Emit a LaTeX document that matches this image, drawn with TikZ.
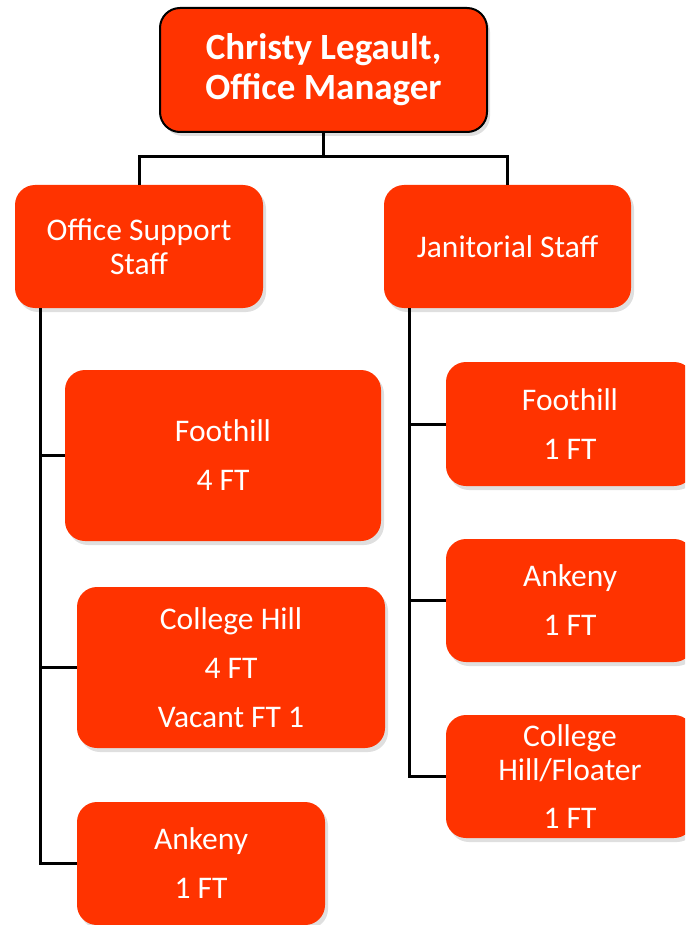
\documentclass[tikz,border=0pt]{standalone}
\usepackage{fontspec}
\setmainfont{Carlito}
\usetikzlibrary{shadows}
\definecolor{boxred}{HTML}{FF3300}
\tikzset{
  unit/.style={rectangle, rounded corners=20pt, fill=boxred, text=white,
    align=center, inner sep=0pt,
    font=\fontsize{31.5}{34}\selectfont,
    drop shadow={opacity=0.25, shadow xshift=3pt, shadow yshift=-4pt}},
  headbox/.style={unit, draw=black, line width=2pt,
    font=\fontsize{37}{40}\selectfont\bfseries},
  link/.style={draw=black, line width=3pt}
}
\begin{document}
\begin{tikzpicture}[x=1pt, y=-1pt]
\useasboundingbox (0,0) rectangle (685,925);
\clip (0,0) rectangle (685,925);

% manager
\node[headbox, minimum width=327pt, minimum height=124pt] (mgr) at (323.5,70)
  {Christy Legault,\\Office Manager};

% departments
\node[unit, minimum width=248pt, minimum height=123pt] (oss) at (139,246.5)
  {Office Support\\Staff};
\node[unit, minimum width=247pt, minimum height=123pt] (jan) at (507.5,246.5)
  {Janitorial Staff};

% office support sites
\node[unit, minimum width=316pt, minimum height=171pt] (ofh) at (223,455.5)
  {Foothill\\[15pt]4 FT};
\node[unit, minimum width=308pt, minimum height=161pt] (och) at (231,667.5)
  {College Hill\\[15pt]4 FT\\[15pt]Vacant FT 1};
\node[unit, minimum width=248pt, minimum height=123pt] (oak) at (201,863.5)
  {Ankeny\\[15pt]1 FT};

% janitorial sites
\node[unit, minimum width=248pt, minimum height=124pt] (jfh) at (570,424)
  {Foothill\\[15pt]1 FT};
\node[unit, minimum width=248pt, minimum height=123pt] (jak) at (570,600.5)
  {Ankeny\\[15pt]1 FT};
\node[unit, minimum width=248pt, minimum height=123pt] (jch) at (570,776.5)
  {College\\Hill/Floater\\[14pt]1 FT};

% connectors
\coordinate (split) at (323.5,157);
\draw[link] (mgr.south) -- (split);
\draw[link] (split) -| (oss.north);
\draw[link] (split) -| (jan.north);

\coordinate (lspine) at (40,308);
\draw[link] (lspine) |- (oak.west);
\draw[link] (lspine |- ofh.west) -- (ofh.west);
\draw[link] (lspine |- och.west) -- (och.west);

\coordinate (rspine) at (409,308);
\draw[link] (rspine) |- (jch.west);
\draw[link] (rspine |- jfh.west) -- (jfh.west);
\draw[link] (rspine |- jak.west) -- (jak.west);
\end{tikzpicture}
\end{document}
